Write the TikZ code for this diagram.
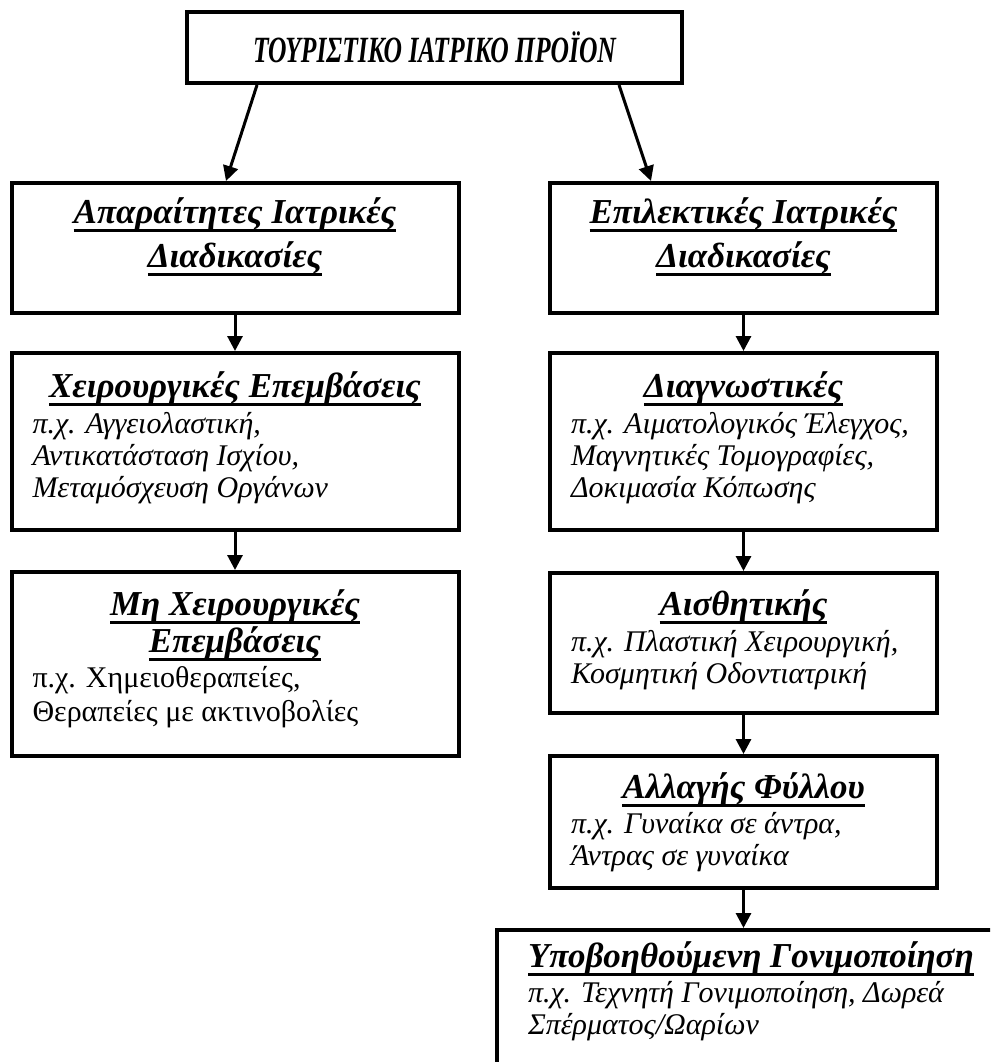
\documentclass[tikz,border=0pt]{standalone}
\usepackage{fontspec}
\setmainfont{Liberation Serif}
\newfontfamily\topfont[FakeStretch=0.69]{Liberation Serif}
\usetikzlibrary{arrows.meta}

\newcommand{\hdfont}{\fontsize{35}{42}\selectfont\bfseries\itshape}
\newcommand{\txfont}{\fontsize{30}{32}\selectfont\itshape}
\newcommand{\boxtext}[3]{\parbox[c][#2][t]{#1}{#3}}
\newcommand{\uln}[1]{\leavevmode\setbox0\hbox{#1}\rlap{\vrule height -6pt depth 8.5pt width \wd0}\box0}

\begin{document}
\begin{tikzpicture}[
    x=1pt, y=-1pt, >={Triangle[length=15pt,width=15pt]}, node distance=190pt,
    every node/.style={draw, line width=4pt, inner sep=0pt}
]
\useasboundingbox (0,0) rectangle (990,1062);
\clip (0,0) rectangle (990,1062);

\node (product) [minimum width=495pt, minimum height=71pt] at (434.5,47.5) {\topfont\fontsize{37}{40}\selectfont\bfseries\itshape\raisebox{-1pt}{ΤΟΥΡΙΣΤΙΚΟ ΙΑΤΡΙΚΟ ΠΡΟΪΟΝ}};

\node (necessary) [below of=product, xshift=-199.5pt, yshift=-10.5pt, minimum width=447pt] {\boxtext{405pt}{130pt}{\centering\hdfont\rule{0pt}{40pt}\uln{Απαραίτητες Ιατρικές}\\[2pt]\uln{Διαδικασίες}\par}};
\node (elective) [below of=product, xshift=309pt, yshift=-10.5pt, minimum width=387pt] {\boxtext{345pt}{130pt}{\centering\hdfont\rule{0pt}{40pt}\uln{Επιλεκτικές Ιατρικές}\\[2pt]\uln{Διαδικασίες}\par}};

\node (surgical) [below of=necessary, yshift=-3.5pt, minimum width=447pt] {\boxtext{405pt}{177pt}{{\centering\hdfont\rule{0pt}{44pt}\uln{Χειρουργικές Επεμβάσεις}\par}\vspace{4pt}
{\raggedright\txfont π.χ. Αγγειολαστική,\\Αντικατάσταση Ισχίου,\\Μεταμόσχευση Οργάνων\par}}};
\node (diagnostic) [below of=elective, yshift=-3.5pt, minimum width=387pt] {\boxtext{345pt}{177pt}{{\centering\hdfont\rule{0pt}{44pt}\uln{Διαγνωστικές}\par}\vspace{4pt}
{\raggedright\txfont π.χ. Αιματολογικός Έλεγχος,\\Μαγνητικές Τομογραφίες,\\Δοκιμασία Κόπωσης\par}}};

\node (nonsurgical) [below of=surgical, yshift=-32.5pt, minimum width=447pt] {\boxtext{405pt}{184pt}{{\centering\hdfont\rule{0pt}{43pt}\uln{Μη Χειρουργικές}\\[-5pt]\uln{Επεμβάσεις}\par}\vspace{3pt}
{\raggedright\txfont\upshape π.χ. Χημειοθεραπείες,\\[2pt]Θεραπείες με ακτινοβολίες\par}}};
\node (aesthetic) [below of=diagnostic, yshift=-11.5pt, minimum width=387pt] {\boxtext{345pt}{140pt}{{\centering\hdfont\rule{0pt}{42pt}\uln{Αισθητικής}\par}\vspace{4pt}
{\raggedright\txfont π.χ. Πλαστική Χειρουργική,\\Κοσμητική Οδοντιατρική\par}}};
\node (sexchange) [below of=aesthetic, yshift=11pt, minimum width=387pt] {\boxtext{345pt}{132pt}{{\centering\hdfont\rule{0pt}{42pt}\uln{Αλλαγής Φύλλου}\par}\vspace{3pt}
{\raggedright\txfont π.χ. Γυναίκα σε άντρα,\\Άντρας σε γυναίκα\par}}};
\node (fertility) [below of=sexchange, xshift=4.5pt, yshift=7pt, minimum width=502pt] {\boxtext{440pt}{150pt}{{\centering\hdfont\rule{0pt}{37pt}\uln{Υποβοηθούμενη Γονιμοποίηση}\par}\vspace{3pt}
{\raggedright\txfont π.χ. Τεχνητή Γονιμοποίηση, Δωρεά\\Σπέρματος/Ωαρίων\par}}};

\draw[->, line width=3pt] ([xshift=72pt]product.south west) -- ([xshift=216.5pt]necessary.north west);
\draw[->, line width=3pt] ([xshift=-65pt]product.south east) -- ([xshift=103pt]elective.north west);
\draw[->, line width=3pt] (necessary) -- (surgical);
\draw[->, line width=3pt] (surgical) -- (nonsurgical);
\draw[->, line width=3pt] (elective) -- (diagnostic);
\draw[->, line width=3pt] (diagnostic) -- (aesthetic);
\draw[->, line width=3pt] (aesthetic) -- (sexchange);
\draw[->, line width=3pt] (sexchange) -- (sexchange.south |- fertility.north);
\end{tikzpicture}
\end{document}
